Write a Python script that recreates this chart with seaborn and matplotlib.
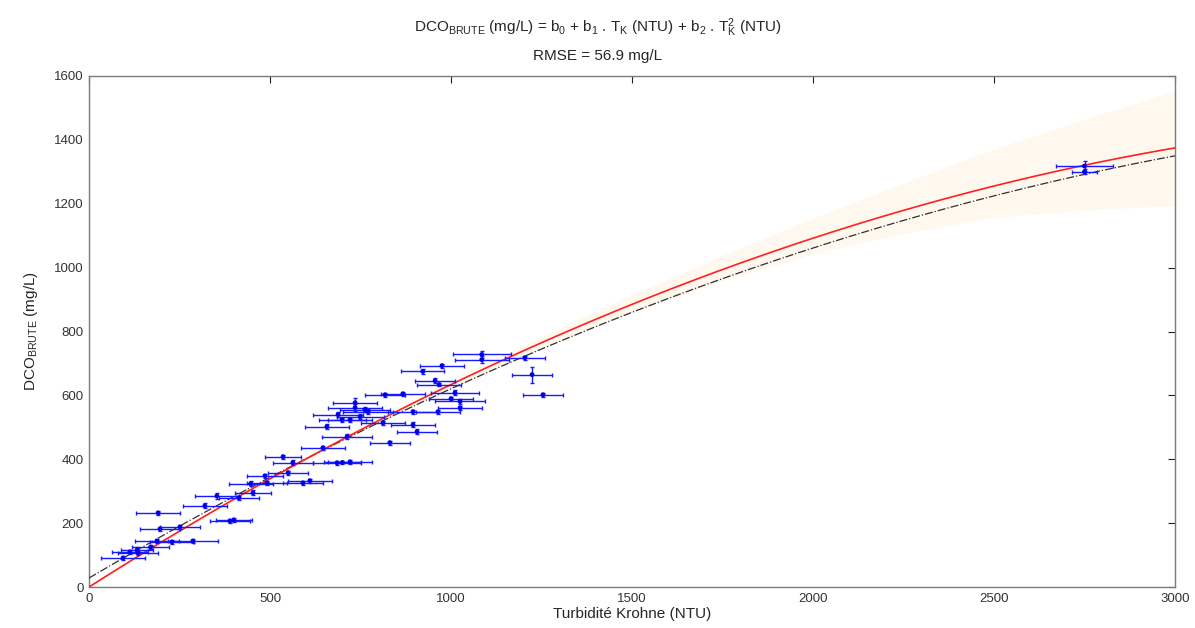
import numpy as np
import pandas as pd
import matplotlib
matplotlib.use("Agg")
import matplotlib.pyplot as plt
import seaborn as sns

# ---- data ----
turb = [94, 113, 133, 135, 170, 188, 229, 287, 196, 251, 191, 320, 389, 400, 353, 414, 453,
        447, 492, 486, 536, 563, 550, 591, 610, 646, 657, 685, 700, 721, 713, 688, 699, 735,
        735, 762, 749, 721, 771, 812, 831, 895, 906, 867, 818, 895, 964, 922, 975, 956, 967,
        1011, 1025, 1025, 1000, 1085, 1085, 1204, 1224, 1254, 2750, 2750]
dco = [91, 110, 116, 107, 125, 144, 141, 144, 182, 188, 232, 254, 207, 210, 285, 279, 295,
       323, 326, 348, 408, 389, 358, 326, 333, 436, 502, 389, 390, 392, 471, 540, 524, 562,
       577, 555, 533, 524, 549, 514, 452, 508, 486, 605, 602, 549, 549, 675, 693, 646, 634,
       608, 581, 561, 590, 728, 712, 718, 665, 602, 1318, 1300]
turb_err = [60, 50, 45, 55, 50, 60, 60, 70, 55, 55, 60, 60, 55, 50, 60, 55, 50,
            60, 55, 50, 50, 55, 55, 55, 60, 60, 60, 65, 50, 60, 70, 70, 65, 75,
            60, 70, 65, 60, 70, 60, 55, 60, 55, 60, 55, 70, 60, 60, 60, 55, 60,
            65, 70, 60, 60, 80, 75, 55, 55, 55, 80, 35]
dco_err = [6, 6, 8, 6, 6, 6, 6, 6, 6, 6, 6, 8, 6, 6, 8, 6, 8,
           8, 6, 6, 6, 8, 6, 6, 6, 6, 8, 6, 6, 6, 8, 8, 6, 12,
           15, 8, 8, 6, 8, 6, 6, 8, 8, 6, 6, 6, 6, 8, 6, 8, 6,
           8, 8, 6, 6, 12, 10, 6, 25, 6, 15, 8]

# fitted quadratic models  (b0, b1, b2)
fit_red = [0.0, 0.7217, -8.78e-5]
fit_black = [28.0, 0.6687, -7.6e-5]

# confidence band
band_x = [0, 250, 500, 750, 1000, 1250, 1500, 1750, 2000, 2250, 2500, 2750, 3000]
band_lo = [-3, 171, 333, 484, 622, 748, 860, 958, 1042, 1108, 1157, 1180, 1195]
band_hi = [3, 179, 346, 502, 648, 785, 915, 1038, 1155, 1265, 1372, 1465, 1553]

xticks = [0, 500, 1000, 1500, 2000, 2500, 3000]
yticks = [0, 200, 400, 600, 800, 1000, 1200, 1400, 1600]

# ---- style ----
sns.set_theme(style="white")
plt.rcParams["font.family"] = ["Liberation Sans", "DejaVu Sans"]
plt.rcParams["mathtext.fontset"] = "custom"
plt.rcParams["mathtext.rm"] = "Liberation Sans"
plt.rcParams["mathtext.it"] = "Liberation Sans:italic"
plt.rcParams["mathtext.default"] = "regular"

fig = plt.figure(figsize=(11.95, 6.28), dpi=100)
ax = fig.add_axes([89 / 1195, 1 - 587 / 628, (1175 - 89) / 1195, (587 - 76) / 628])

xx = np.linspace(0, 3000, 301)
def quad(c, x):
    return c[0] + c[1] * x + c[2] * x ** 2

ax.fill_between(band_x, band_lo, band_hi, color="#fff8ee", lw=0, zorder=1)

curves = pd.DataFrame({"x": np.concatenate([xx, xx]),
                       "y": np.concatenate([quad(fit_red, xx), quad(fit_black, xx)]),
                       "m": ["red"] * len(xx) + ["black"] * len(xx)})
sns.lineplot(data=curves[curves.m == "black"], x="x", y="y", ax=ax, color="#303030",
             lw=0.9, linestyle="-.", zorder=3, legend=False)
sns.lineplot(data=curves[curves.m == "red"], x="x", y="y", ax=ax, color="#ff2020",
             lw=1.2, zorder=4, legend=False)

ax.errorbar(turb, dco, xerr=turb_err, yerr=dco_err, fmt="none", ecolor="#1a1aff",
            elinewidth=1.0, capsize=1.5, capthick=1.0, zorder=5)
sns.scatterplot(x=turb, y=dco, ax=ax, color="#0000ee", s=12, marker="o",
                edgecolor="none", zorder=6)

ax.set_xlim(0, 3000)
ax.set_ylim(0, 1600)
ax.set_xticks(xticks)
ax.set_yticks(yticks)
ax.tick_params(direction="in", length=5, width=0.8, colors="#222222", labelsize=9.5,
               top=True, right=True, labelcolor="#333333", pad=4)
for s in ax.spines.values():
    s.set_color("#7a7a7a")
    s.set_linewidth(1.0)
    s.set_visible(True)

ax.set_xlabel("Turbidité Krohne (NTU)", fontsize=11, labelpad=2)
ax.set_ylabel(r"DCO$_{BRUTE}$ (mg/L)", fontsize=11, labelpad=10)

fig.text(0.5, 1 - 28 / 628,
         r"DCO$_{BRUTE}$ (mg/L) = b$_0$ + b$_1$ . T$_K$ (NTU) + b$_2$ . T$_K^2$ (NTU)",
         ha="center", va="center", fontsize=11)
fig.text(0.5, 1 - 56 / 628, "RMSE = 56.9 mg/L", ha="center", va="center", fontsize=11)

fig.savefig("out.png", dpi=100)
